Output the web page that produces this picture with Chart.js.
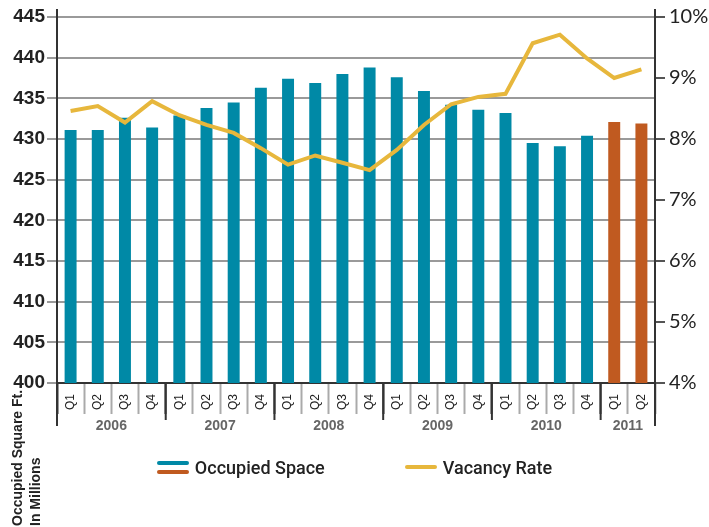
<!DOCTYPE html>
<html>
<head>
<meta charset="utf-8">
<script src="https://cdn.jsdelivr.net/npm/chart.js@4"></script>
<style>
  html, body { margin: 0; padding: 0; background: #fff; }
  #wrap { width: 709px; height: 527px; position: relative; }
  #legend { position: absolute; left: 0; top: 455px; width: 709px; height: 24px;
            display: flex; justify-content: center; align-items: center; }
  #legend .item { display: flex; align-items: center; margin: 0 40px;
                  font: 500 18px Roboto, sans-serif; color: #222; }
  #legend canvas { margin-right: 6px; }
</style>
</head>
<body>
<div id="wrap"><canvas id="myChart"></canvas><div id="legend"></div></div>
<script>
const quarters = ['Q1','Q2','Q3','Q4','Q1','Q2','Q3','Q4','Q1','Q2','Q3','Q4',
                  'Q1','Q2','Q3','Q4','Q1','Q2','Q3','Q4','Q1','Q2'];
const years = ['2006', '2007', '2008', '2009', '2010', '2011'];
const quartersPerYear = [4, 4, 4, 4, 4, 2];

const occupiedSpace = [431.1, 431.1, 432.6, 431.4, 432.9, 433.8, 434.5, 436.3,
                       437.4, 436.9, 438.0, 438.8, 437.6, 435.9, 434.2, 433.6,
                       433.2, 429.5, 429.1, 430.4, 432.1, 431.9];
const vacancyRate = [8.46, 8.54, 8.27, 8.62, 8.39, 8.23, 8.10, 7.85,
                     7.58, 7.73, 7.61, 7.49, 7.82, 8.23, 8.57, 8.69,
                     8.74, 9.57, 9.71, 9.32, 9.00, 9.14];

const teal = '#0089a6';
const orange = '#c05a20';
const yellow = '#e7b73c';
const barColors = occupiedSpace.map((v, i) => i < 20 ? teal : orange);

// legend swatches
function swatch(colors) {
    const c = document.createElement('canvas');
    c.width = 32; c.height = 16;
    const g = c.getContext('2d');
    g.lineCap = 'round';
    g.lineWidth = 4;
    colors.forEach((col, i) => {
        const y = colors.length === 1 ? 8 : 4 + i * 9;
        g.strokeStyle = col;
        g.beginPath(); g.moveTo(2, y); g.lineTo(30, y); g.stroke();
    });
    return c;
}

const htmlLegend = {
    id: 'htmlLegend',
    afterUpdate(chart) {
        const box = document.getElementById('legend');
        box.innerHTML = '';
        const items = [
            { text: chart.data.datasets[1].label, colors: [teal, orange] },
            { text: chart.data.datasets[0].label, colors: [yellow] },
        ];
        items.forEach(it => {
            const el = document.createElement('div');
            el.className = 'item';
            el.appendChild(swatch(it.colors));
            el.appendChild(document.createTextNode(it.text));
            box.appendChild(el);
        });
    }
};

const yearPlugin = {
    id: 'years',
    afterDraw(chart) {
        const g = chart.ctx;
        const x = chart.scales.x;
        const area = chart.chartArea;
        const top = area.bottom;
        const half = (x.getPixelForValue(1) - x.getPixelForValue(0)) / 2;
        g.save();
        g.strokeStyle = '#333';
        g.lineWidth = 2;
        // axis lines run a little above the plot
        [area.left, area.right].forEach(px => {
            g.beginPath();
            g.moveTo(px, area.top - 8);
            g.lineTo(px, area.top);
            g.stroke();
        });
        let start = 0;
        quartersPerYear.forEach((n, k) => {
            const left = x.getPixelForValue(start) - half;
            const right = x.getPixelForValue(start + n - 1) + half;
            g.beginPath();
            g.moveTo(left, top);
            g.lineTo(left, top + (k === 0 ? 43 : 37));
            g.stroke();
            if (k === quartersPerYear.length - 1) {
                g.beginPath();
                g.moveTo(right, top);
                g.lineTo(right, top + 43);
                g.stroke();
            }
            g.fillStyle = '#666';
            g.font = 'bold 14px "Liberation Sans"';
            g.textAlign = 'center';
            g.textBaseline = 'middle';
            g.fillText(years[k], (left + right) / 2, top + 43);
            start += n;
        });

        // axis title, bottom left
        g.fillStyle = '#222';
        g.font = 'bold 14px "Liberation Sans"';
        g.textAlign = 'left';
        g.textBaseline = 'middle';
        g.save();
        g.translate(18, 526);
        g.rotate(-Math.PI / 2);
        g.fillText('Occupied Square Ft.', 0, 0);
        g.restore();
        g.save();
        g.translate(36, 526);
        g.rotate(-Math.PI / 2);
        g.fillText('In Millions', 0, 0);
        g.restore();
        g.restore();
    }
};

const ctx = document.getElementById('myChart');

new Chart(ctx, {
    data: {
        labels: quarters,
        datasets: [{
            type: 'line',
            label: 'Vacancy Rate',
            data: vacancyRate,
            yAxisID: 'y1',
            borderColor: yellow,
            backgroundColor: yellow,
            borderWidth: 4,
            pointRadius: 0,
            tension: 0,
            order: 0,
        }, {
            type: 'bar',
            label: 'Occupied Space',
            data: occupiedSpace,
            yAxisID: 'y',
            backgroundColor: barColors,
            barPercentage: 0.44,
            categoryPercentage: 1,
            order: 1,
        }]
    },
    options: {
        responsive: true,
        maintainAspectRatio: false,
        animation: false,
        layout: { padding: { top: 17, bottom: 84 } },
        plugins: {
            tooltip: { enabled: false },
            legend: { display: false }
        },
        scales: {
            x: {
                offset: true,
                afterFit(scale) { scale.height = 60; },
                grid: {
                    offset: true,
                    drawOnChartArea: false,
                    tickLength: 31,
                    tickWidth: 2,
                    tickColor: (c) => [0, 4, 8, 12, 16, 20, 22].includes(c.index) ? '#333' : '#aaa',
                },
                border: { color: '#333', width: 2 },
                ticks: {
                    minRotation: 90,
                    maxRotation: 90,
                    padding: -20,
                    color: '#222',
                    font: { size: 12, family: 'Liberation Sans' },
                    autoSkip: false,
                }
            },
            y: {
                position: 'left',
                min: 400,
                max: 445,
                afterFit(scale) { scale.width = 57; },
                ticks: {
                    stepSize: 5,
                    color: '#222',
                    padding: 2,
                    font: { size: 19, weight: 'bold', family: 'Liberation Sans' },
                },
                grid: { color: '#9a9a9a', lineWidth: 2, tickLength: 10 },
                border: { color: '#333', width: 2 },
            },
            y1: {
                position: 'right',
                min: 4,
                max: 10,
                afterFit(scale) { scale.width = 54; },
                ticks: {
                    stepSize: 1,
                    color: '#222',
                    padding: 4,
                    font: { size: 20, family: 'Lato' },
                    callback: (v) => v + '%',
                },
                grid: { drawOnChartArea: false, color: '#555', lineWidth: 2, tickLength: 10 },
                border: { color: '#333', width: 2 },
            }
        }
    },
    plugins: [yearPlugin, htmlLegend]
});
</script>
</body>
</html>
